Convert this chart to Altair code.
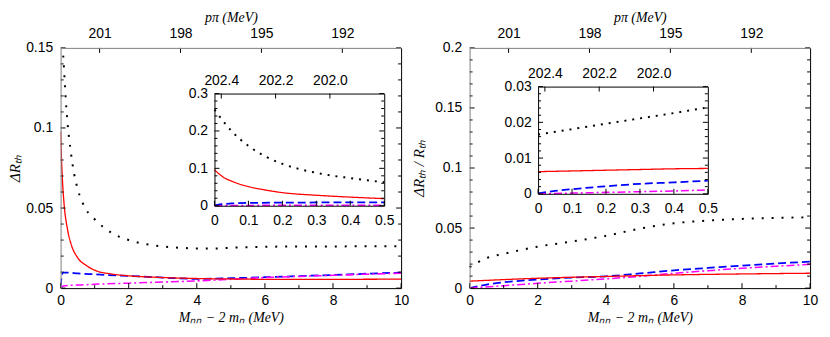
import altair as alt
import pandas as pd

FONT = "Liberation Sans"
SERIF = "Liberation Serif"

# ---------------- data ----------------
SER = ["dotted", "dashed", "dashdot", "solid"]
COL = ["#000000", "#0000ff", "#ff00ff", "#ff0000"]
WID = [2.0, 1.3, 1.3, 1.3]
DASH_MAIN = [[2, 8], [8, 4], [8, 3, 2, 3], [1, 0]]
DASH_INS = [[2, 6], [8, 4], [8, 3, 2, 3], [1, 0]]

# left main panel: Delta R_th
LM_black_x = [0.03, 0.06, 0.1, 0.15, 0.2, 0.3, 0.4, 0.5, 0.75, 1, 1.5, 2, 2.5, 3, 3.5, 4, 4.5, 5, 6, 7, 8, 9, 10]
LM_black_y = [0.17, 0.152, 0.137, 0.118, 0.104, 0.085, 0.071, 0.062, 0.049, 0.043, 0.0345, 0.030, 0.0275,
              0.026, 0.0252, 0.0248, 0.0247, 0.0252, 0.0258, 0.026, 0.026, 0.0262, 0.0262]
LM_red_x = [0, 0.02, 0.05, 0.1, 0.2, 0.3, 0.5, 0.75, 1, 1.5, 2, 3, 4, 5, 6, 8, 10]
LM_red_y = [0.098, 0.084, 0.069, 0.053, 0.037, 0.028, 0.019, 0.0142, 0.0112, 0.0088, 0.0077, 0.0066,
            0.006, 0.0057, 0.0055, 0.0055, 0.0056]
LM_blue_x = [0, 0.03, 0.07, 0.2, 0.5, 1, 2, 3, 4, 5, 6, 7, 8, 9, 10]
LM_blue_y = [0.001, 0.007, 0.0097, 0.0097, 0.0092, 0.0086, 0.0076, 0.0066, 0.0058, 0.0062, 0.0068,
             0.0075, 0.0082, 0.009, 0.0097]
LM_mag_x = [0, 0.1, 0.6, 1, 2, 3, 4, 5, 6, 7, 8, 9, 10]
LM_mag_y = [0, 0.0015, 0.002, 0.0024, 0.0031, 0.0038, 0.0045, 0.0055, 0.0066, 0.0073, 0.008, 0.0087, 0.0093]

# left inset
LI_black_x = [0, 0.05, 0.1, 0.15, 0.2, 0.25, 0.3, 0.35, 0.4, 0.45, 0.5]
LI_black_y = [0.257, 0.200, 0.160, 0.132, 0.112, 0.098, 0.088, 0.080, 0.074, 0.068, 0.063]
LI_red_x = [0, 0.03, 0.05, 0.08, 0.1, 0.15, 0.2, 0.3, 0.4, 0.5]
LI_red_y = [0.096, 0.074, 0.066, 0.056, 0.051, 0.042, 0.035, 0.028, 0.023, 0.019]
LI_blue_x = [0, 0.02, 0.05, 0.1, 0.2, 0.3, 0.4, 0.5]
LI_blue_y = [0.001, 0.004, 0.006, 0.0075, 0.0082, 0.0087, 0.009, 0.0092]
LI_mag_x = [0, 0.1, 0.3, 0.5]
LI_mag_y = [0.0, 0.0008, 0.0012, 0.0015]

# right main panel: Delta R_th / R_th
RM_black_x = [0, 0.5, 1, 2, 3, 4, 5, 6, 7, 8, 9, 10]
RM_black_y = [0.0175, 0.025, 0.0285, 0.0345, 0.0388, 0.0435, 0.0495, 0.054, 0.0562, 0.0576, 0.0584, 0.059]
RM_red_x = [0, 2, 4, 6, 8, 10]
RM_red_y = [0.0058, 0.0082, 0.0097, 0.011, 0.0118, 0.0124]
RM_blue_x = [0, 0.5, 1, 2, 3, 4, 5, 6, 7, 8, 9, 10]
RM_blue_y = [0.0, 0.003, 0.0048, 0.0072, 0.0088, 0.0098, 0.0122, 0.0148, 0.0168, 0.0188, 0.0205, 0.022]
RM_mag_x = [0, 1, 2, 3, 4, 5, 6, 7, 8, 9, 10]
RM_mag_y = [0.0, 0.002, 0.004, 0.0058, 0.0077, 0.0098, 0.0123, 0.0145, 0.0165, 0.0182, 0.0198]

# right inset
RI_black_x = [0, 0.1, 0.2, 0.3, 0.4, 0.5]
RI_black_y = [0.0166, 0.0181, 0.0196, 0.0211, 0.0226, 0.0242]
RI_red_x = [0, 0.1, 0.2, 0.3, 0.4, 0.5]
RI_red_y = [0.0062, 0.0064, 0.0066, 0.0068, 0.0070, 0.0071]
RI_blue_x = [0, 0.05, 0.1, 0.2, 0.3, 0.4, 0.5]
RI_blue_y = [0.0001, 0.0008, 0.0013, 0.0021, 0.0028, 0.0032, 0.0037]
RI_mag_x = [0, 0.1, 0.2, 0.3, 0.4, 0.5]
RI_mag_y = [0.0, 0.0002, 0.0004, 0.0006, 0.0008, 0.0011]

# ticks / labels
X_MAJOR = [0, 2, 4, 6, 8, 10]
X_MINOR = [1, 3, 5, 7, 9]
P_MAIN = [201, 198, 195, 192]
P_INS = [202.4, 202.2, 202.0]
INS_X = [0, 0.1, 0.2, 0.3, 0.4, 0.5]
L_Y_MAJOR = [0, 0.05, 0.1, 0.15]
L_Y_MINOR = [0.01, 0.02, 0.03, 0.04, 0.06, 0.07, 0.08, 0.09, 0.11, 0.12, 0.13, 0.14]
R_Y_MAJOR = [0, 0.05, 0.1, 0.15, 0.2]
R_Y_MINOR = [0.01, 0.02, 0.03, 0.04, 0.06, 0.07, 0.08, 0.09, 0.11, 0.12, 0.13, 0.14,
             0.16, 0.17, 0.18, 0.19]
LI_Y_MAJOR = [0, 0.1, 0.2, 0.3]
LI_Y_MINOR = [0.02, 0.04, 0.06, 0.08, 0.12, 0.14, 0.16, 0.18, 0.22, 0.24, 0.26, 0.28]
RI_Y_MAJOR = [0, 0.01, 0.02, 0.03]
RI_Y_MINOR = [0.002, 0.004, 0.006, 0.008, 0.012, 0.014, 0.016, 0.018, 0.022, 0.024, 0.026, 0.028]

# ---------------- layout (styling) ----------------
W, H = 755, 242
MAJ, MIN = 5, 3
GRAY = "#808080"
PLAIN = "'' + datum.value"


def long_df(parts):
    rows = []
    for name, xs, ys in parts:
        for a, b in zip(xs, ys):
            rows.append({"x": a, "y": b, "s": name})
    return pd.DataFrame(rows)


def lin(domain, rng):
    return alt.Scale(domain=domain, range=rng, zero=False, nice=False)


def axis(orient, offset, values=None, fmt=None, title=None, color="#000000", labels=True,
         lpad=7, tpad=8, tsize=15):
    d = dict(orient=orient, offset=offset, ticks=False, grid=False, domain=True,
             domainColor=color, domainWidth=1, zindex=1)
    if labels:
        d.update(labels=True, values=values, labelFont=FONT, labelFontSize=14, labelColor="#000000",
                 labelPadding=lpad, labelFlush=False, labelOverlap=False, labelBound=False)
        if fmt == "plain":
            d["labelExpr"] = PLAIN
        elif fmt:
            d["format"] = fmt
    else:
        d["labels"] = False
    if title:
        d.update(title=title, titleFont=SERIF, titleFontSize=tsize, titleFontStyle="italic",
                 titleFontWeight="normal", titleColor="#000000", titlePadding=tpad)
    else:
        d["title"] = None
    return alt.Axis(**d)


def vticks(values, xs, ys, ypos, off, color="#000000"):
    return alt.Chart(pd.DataFrame({"v": values})).mark_rule(
        color=color, strokeWidth=1, y2Offset=off).encode(
        x=alt.X("v:Q", scale=xs, axis=None),
        y=alt.YDatum(ypos, scale=ys, axis=None),
        y2=alt.Y2Datum(ypos))


def hticks(values, xs, ys, xpos, off, color="#000000"):
    return alt.Chart(pd.DataFrame({"v": values})).mark_rule(
        color=color, strokeWidth=1, x2Offset=off).encode(
        y=alt.Y("v:Q", scale=ys, axis=None),
        x=alt.XDatum(xpos, scale=xs, axis=None),
        x2=alt.X2Datum(xpos))


def lines(df, xs, ys, dashes, xaxis, yaxis):
    return alt.Chart(df).mark_line(interpolate="monotone", clip=True).encode(
        x=alt.X("x:Q", scale=xs, axis=xaxis),
        y=alt.Y("y:Q", scale=ys, axis=yaxis),
        color=alt.Color("s:N", scale=alt.Scale(domain=SER, range=COL), legend=None),
        strokeDash=alt.StrokeDash("s:N", scale=alt.Scale(domain=SER, range=dashes), legend=None),
        strokeWidth=alt.StrokeWidth("s:N", scale=alt.Scale(domain=SER, range=WID), legend=None),
        detail="s:N",
    )


def panel(main_df, ins_df, xr, ymax, ytitle, ytpad, ymaj, ymin, ins_xr, ins_yr, ins_ymax,
          ins_ymaj, ins_ymin):
    layers = []
    xs = lin([0, 10], xr)
    ys = lin([0, ymax], [H, 0])
    ps = lin([202.446, 189.82], xr)
    left_off = -xr[0]
    right_off = xr[1] - W
    # main lines with bottom & left axes
    layers.append(lines(main_df, xs, ys, DASH_MAIN,
                        axis("bottom", 0, X_MAJOR, "plain", "Mₙₙ − 2 mₙ (MeV)", lpad=6, tpad=3,
                             tsize=14),
                        axis("left", left_off, ymaj, "plain", ytitle, color=GRAY, lpad=8,
                             tpad=ytpad)))
    # top p axis and right frame, with p ticks
    layers.append(alt.Chart(pd.DataFrame({"p": P_MAIN})).mark_rule(
        color="#000000", strokeWidth=1, y2Offset=MAJ).encode(
        x=alt.X("p:Q", scale=ps, axis=axis("top", 0, P_MAIN, "plain", "pπ (MeV)", color=GRAY,
                                          lpad=7, tpad=3, tsize=14)),
        y=alt.YDatum(ymax, scale=ys, axis=axis("right", right_off, labels=False)),
        y2=alt.Y2Datum(ymax)))
    layers.append(vticks(X_MAJOR, xs, ys, 0, -MAJ))
    layers.append(vticks(X_MINOR, xs, ys, 0, -MIN))
    layers.append(hticks(ymaj, xs, ys, 0, MAJ))
    layers.append(hticks(ymin, xs, ys, 0, MIN))
    layers.append(hticks(ymaj, xs, ys, 10, -MAJ))
    layers.append(hticks(ymin, xs, ys, 10, -MIN))

    # inset
    ixs = lin([0, 0.5], ins_xr)
    iys = lin([0, ins_ymax], ins_yr)
    ips = lin([202.425, 201.80], ins_xr)
    layers.append(lines(ins_df, ixs, iys, DASH_INS,
                        axis("bottom", ins_yr[0] - H, INS_X, "plain", lpad=8),
                        axis("left", -ins_xr[0], ins_ymaj, "plain", lpad=7)))
    layers.append(alt.Chart(pd.DataFrame({"p": P_INS})).mark_rule(
        color="#000000", strokeWidth=1, y2Offset=MAJ).encode(
        x=alt.X("p:Q", scale=ips, axis=axis("top", -ins_yr[1], P_INS, ".1f", lpad=6)),
        y=alt.YDatum(ins_ymax, scale=iys, axis=axis("right", ins_xr[1] - W, labels=False)),
        y2=alt.Y2Datum(ins_ymax)))
    layers.append(vticks(INS_X, ixs, iys, 0, -MAJ))
    layers.append(hticks(ins_ymaj, ixs, iys, 0, MAJ))
    layers.append(hticks(ins_ymin, ixs, iys, 0, MIN))
    layers.append(hticks(ins_ymaj, ixs, iys, 0.5, -MAJ))
    layers.append(hticks(ins_ymin, ixs, iys, 0.5, -MIN))
    return layers


lm = long_df([("dotted", LM_black_x, LM_black_y), ("dashed", LM_blue_x, LM_blue_y),
              ("dashdot", LM_mag_x, LM_mag_y), ("solid", LM_red_x, LM_red_y)])
li = long_df([("dotted", LI_black_x, LI_black_y), ("dashed", LI_blue_x, LI_blue_y),
              ("dashdot", LI_mag_x, LI_mag_y), ("solid", LI_red_x, LI_red_y)])
rm = long_df([("dotted", RM_black_x, RM_black_y), ("dashed", RM_blue_x, RM_blue_y),
              ("dashdot", RM_mag_x, RM_mag_y), ("solid", RM_red_x, RM_red_y)])
ri = long_df([("dotted", RI_black_x, RI_black_y), ("dashed", RI_blue_x, RI_blue_y),
              ("dashdot", RI_mag_x, RI_mag_y), ("solid", RI_red_x, RI_red_y)])

layers = []
layers += panel(lm, li, [0, 343], 0.15, "ΔRₜₕ", 3, L_Y_MAJOR, L_Y_MINOR,
                [155, 326], [159, 46], 0.3, LI_Y_MAJOR, LI_Y_MINOR)
layers += panel(rm, ri, [412, 755], 0.2, "ΔRₜₕ / Rₜₕ", 8, R_Y_MAJOR, R_Y_MINOR,
                [481, 652], [147, 39], 0.03, RI_Y_MAJOR, RI_Y_MINOR)

chart = alt.layer(*layers).resolve_scale(
    x="independent", y="independent", strokeDash="independent"
).properties(
    width=W, height=H,
    autosize=alt.AutoSizeParams(type="none"),
    padding={"left": 53, "top": 39, "right": 12, "bottom": 40},
).configure_view(stroke=None)

chart.save("out.html", embed_options={"renderer": "svg", "actions": False})
